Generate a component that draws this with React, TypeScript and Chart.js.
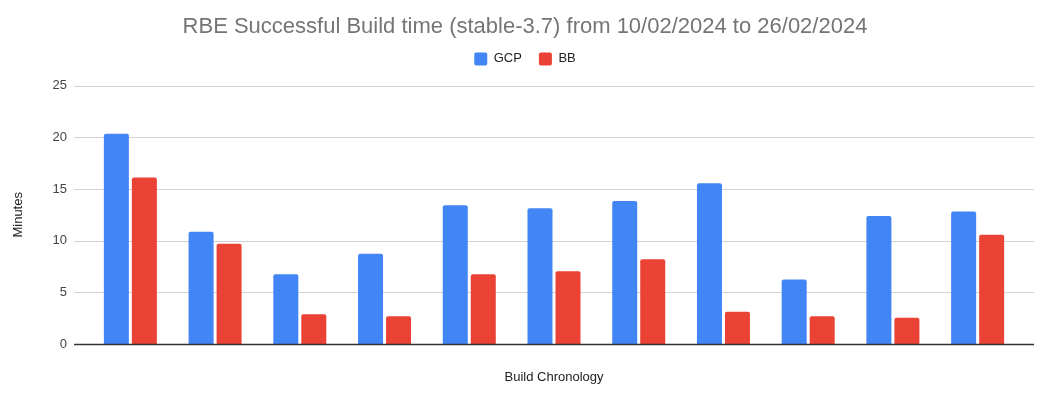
import React, { useEffect, useRef } from "react";
import { Chart, registerables } from "chart.js";

Chart.register(...registerables);

const categories: string[] = ["", "", "", "", "", "", "", "", "", "", ""];
const gcpValues: number[] = [20.35, 10.87, 6.74, 8.74, 13.42, 13.13, 13.84, 15.55, 6.23, 12.39, 12.81];
const bbValues: number[] = [16.1, 9.71, 2.87, 2.68, 6.74, 7.03, 8.19, 3.13, 2.68, 2.55, 10.58];
const yTicks: number[] = [0, 5, 10, 15, 20, 25];

const TITLE = "RBE Successful Build time (stable-3.7) from 10/02/2024 to 26/02/2024";
const FONT = "'Liberation Sans', Arial, sans-serif";

const gridPlugin = {
  id: "extGrid",
  beforeDatasetsDraw(chart: any) {
    const { ctx, chartArea, scales } = chart;
    const y = scales.y;
    ctx.save();
    ctx.lineWidth = 1;
    ctx.strokeStyle = "#d3d3d3";
    for (const v of yTicks) {
      if (v === 0) continue;
      const py = Math.round(y.getPixelForValue(v)) + 0.5;
      ctx.beginPath();
      ctx.moveTo(chartArea.left - 14, py);
      ctx.lineTo(chartArea.right + 14, py);
      ctx.stroke();
    }
    ctx.restore();
  },
  afterDatasetsDraw(chart: any) {
    const { ctx, chartArea, scales } = chart;
    const y = scales.y;
    const py = Math.round(y.getPixelForValue(0)) + 0.5;
    ctx.save();
    ctx.lineWidth = 1.5;
    ctx.strokeStyle = "#333333";
    ctx.beginPath();
    ctx.moveTo(chartArea.left - 14, py);
    ctx.lineTo(chartArea.right + 14, py);
    ctx.stroke();
    ctx.restore();
  },
};

export default function App() {
  const canvasRef = useRef<HTMLCanvasElement | null>(null);

  useEffect(() => {
    document.body.style.margin = "0";
    const canvas = canvasRef.current;
    if (!canvas) return;
    const chart = new Chart(canvas, {
      type: "bar",
      data: {
        labels: categories,
        datasets: [
          {
            label: "GCP",
            data: gcpValues,
            backgroundColor: "#4285F4",
            borderRadius: 2,
            categoryPercentage: 0.661,
            barPercentage: 0.893,
          },
          {
            label: "BB",
            data: bbValues,
            backgroundColor: "#EA4335",
            borderRadius: 2,
            categoryPercentage: 0.661,
            barPercentage: 0.893,
          },
        ],
      },
      plugins: [gridPlugin],
      options: {
        animation: false,
        responsive: false,
        maintainAspectRatio: false,
        layout: { padding: { left: 0, right: 0, top: 0, bottom: 0 } },
        plugins: {
          title: {
            display: true,
            text: TITLE,
            color: "#757575",
            font: { family: FONT, size: 22, weight: "normal" },
            padding: { top: 14, bottom: -5 },
          },
          subtitle: {
            display: true,
            text: " ",
            weight: 500,
            font: { family: FONT, size: 1 },
            padding: { top: 0, bottom: 9 },
          },
          legend: {
            display: true,
            labels: {
              color: "#222222",
              font: { family: FONT, size: 13 },
              boxWidth: 13,
              boxHeight: 13,
              useBorderRadius: true,
              borderRadius: 2,
              padding: 17,
            },
          },
          tooltip: { enabled: false },
        },
        scales: {
          x: {
            grid: { display: false, drawTicks: false },
            border: { display: false },
            ticks: { display: false },
            title: {
              display: true,
              text: "Build Chronology",
              color: "#222222",
              font: { family: FONT, size: 13 },
              padding: { top: 0, bottom: 13 },
            },
            afterFit: (scale: any) => {
              scale.height = 54;
            },
          },
          y: {
            min: 0,
            max: 25,
            grid: { display: false, drawTicks: false },
            border: { display: false },
            afterBuildTicks: (scale: any) => {
              scale.ticks = yTicks.map((v) => ({ value: v }));
            },
            ticks: {
              color: "#444444",
              font: { family: FONT, size: 13 },
              padding: 21,
            },
            title: {
              display: true,
              text: "Minutes",
              color: "#222222",
              font: { family: FONT, size: 13 },
              padding: { top: 11, bottom: 0 },
            },
            afterFit: (scale: any) => {
              scale.width = 88;
            },
          },
          yRight: {
            type: "linear",
            position: "right",
            display: true,
            min: 0,
            max: 25,
            grid: { display: false, drawTicks: false },
            border: { display: false },
            ticks: { display: false },
            afterFit: (scale: any) => {
              scale.width = 30;
            },
          },
        },
      },
    });
    return () => chart.destroy();
  }, []);

  return (
    <div style={{ width: 1050, height: 398, background: "#ffffff" }}>
      <canvas ref={canvasRef} width={1050} height={398} style={{ display: "block" }} />
    </div>
  );
}
